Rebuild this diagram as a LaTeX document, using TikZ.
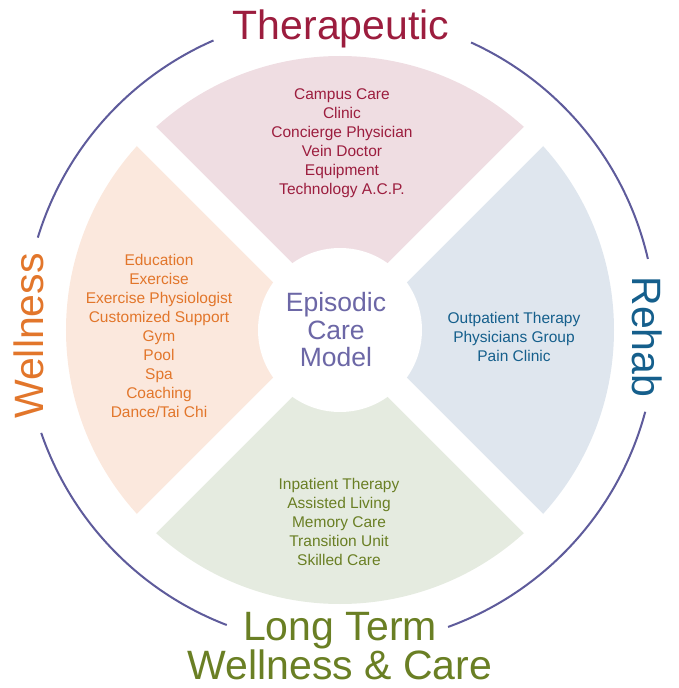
\documentclass[tikz,border=0pt]{standalone}
\usepackage{fontspec}
\setmainfont{Liberation Sans}
\usetikzlibrary{calc}
\definecolor{RingColor}{HTML}{5E5B9B}
\definecolor{ModelColor}{HTML}{6C67A6}
\definecolor{TherColor}{HTML}{9C1D3E}
\definecolor{TherFill}{HTML}{EFDDE2}
\definecolor{WellColor}{HTML}{E2762B}
\definecolor{WellFill}{HTML}{FBE8DD}
\definecolor{RehabColor}{HTML}{155F8C}
\definecolor{RehabFill}{HTML}{DFE6EE}
\definecolor{LongColor}{HTML}{6A7F24}
\definecolor{LongFill}{HTML}{E5EBE0}
\def\RingRadius{316}
\def\OuterRadius{274}
\def\InnerRadius{82}
\def\GapWidth{27pt}

\begin{document}
\begin{tikzpicture}[x=1pt,y=1pt,
    title/.style={font=\fontsize{41}{38}\selectfont, align=center, inner sep=0pt},
    items/.style={font=\fontsize{15.5}{19}\selectfont, align=center, inner sep=0pt}]
  \useasboundingbox (-340,-358) rectangle (338,330);
  \coordinate (O) at (0,0);
  % sectors
  \foreach \dir/\col in {90/TherFill,180/WellFill,270/LongFill,0/RehabFill}
    {
      \fill [\col] (O) -- ($ (O) + (\dir-45:\OuterRadius) $)
        arc (\dir-45:\dir+45:\OuterRadius) -- cycle;
    }
  % gaps between sectors
  \draw [white, line width=\GapWidth] ($ (O) + (45:\RingRadius) $) -- ($ (O) + (225:\RingRadius) $);
  \draw [white, line width=\GapWidth] ($ (O) + (135:\RingRadius) $) -- ($ (O) + (315:\RingRadius) $);
  \fill [white] (O) circle(\InnerRadius);
  % outer ring, open at the titles
  \foreach \a/\b in {13/65.5,113.6/163,199/249,290/345}
    {
      \draw [RingColor, line width=2pt] ($ (O) + (\a:\RingRadius) $) arc (\a:\b:\RingRadius);
    }
  % titles
  \node [title, TherColor, anchor=base] (Therapeutic) at (1,290) {Therapeutic};
  \node [title, WellColor, anchor=base, rotate=90] (Wellness) at (-296,-6) {Wellness};
  \node [title, RehabColor, anchor=base, rotate=-90] (Rehab) at (292,-7) {Rehab};
  \node [title, LongColor] (LongTerm) at (0,-316.3) {Long Term\\Wellness \& Care};
  % centre
  \node [font=\fontsize{26.5}{27.5}\selectfont, align=center, inner sep=0pt, ModelColor] (Model) at (-4,0) {Episodic\\Care\\Model};
  % lists
  \node [items, TherColor] (TherList) at (2,186.5)
    {Campus Care\\Clinic\\Concierge Physician\\Vein Doctor\\Equipment\\Technology A.C.P.};
  \node [items, WellColor] (WellList) at (-181,-5.6)
    {Education\\Exercise\\Exercise Physiologist\\Customized Support\\Gym\\Pool\\Spa\\Coaching\\Dance/Tai Chi};
  \node [items, RehabColor] (RehabList) at (174,-6.9)
    {Outpatient Therapy\\Physicians Group\\Pain Clinic};
  \node [items, LongColor] (LongList) at (-1,-192)
    {Inpatient Therapy\\Assisted Living\\Memory Care\\Transition Unit\\Skilled Care};
\end{tikzpicture}
\end{document}
